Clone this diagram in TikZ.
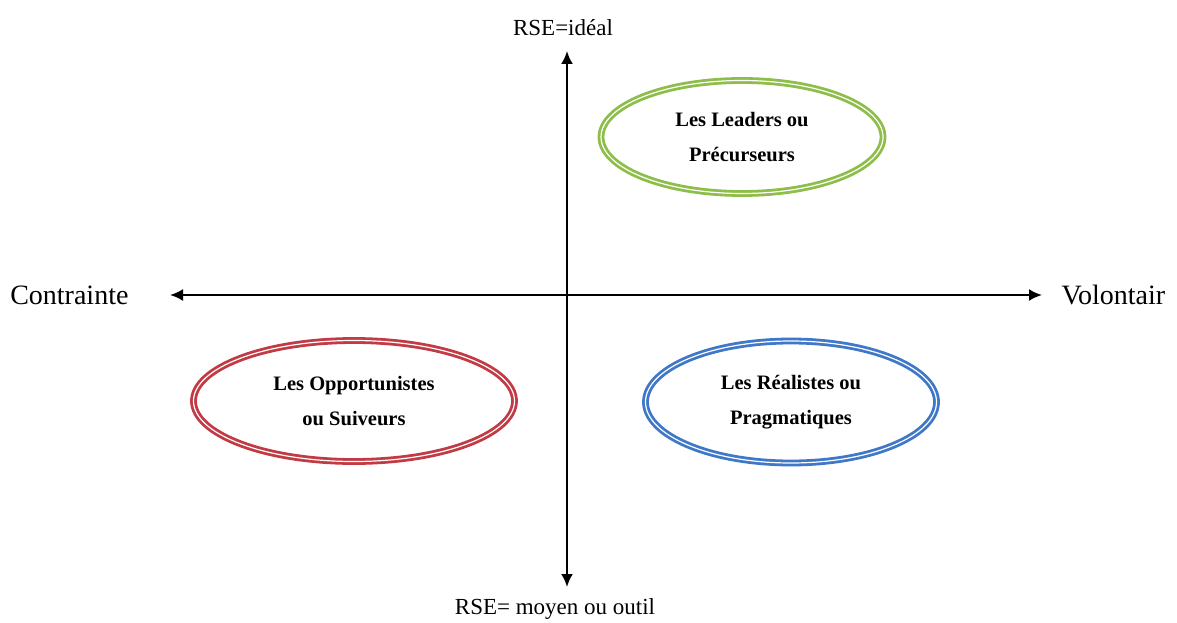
\documentclass[tikz,border=0pt]{standalone}
\usepackage{fontspec}
\setmainfont{Liberation Serif}
\usetikzlibrary{positioning,arrows.meta,shapes.geometric}
\definecolor{rseGreen}{HTML}{8DBE4A}
\definecolor{rseRed}{HTML}{C23A44}
\definecolor{rseBlue}{HTML}{3F78C8}

\begin{document}
\begin{tikzpicture}[x=1pt, y=-1pt,
      group/.style={ellipse, draw, double=white, line width=2.8pt,
        double distance=1.2pt, inner sep=0pt, align=center,
        font=\fontsize{20.5}{35}\selectfont\bfseries},
      lab/.style={font=\fontsize{23}{26}\selectfont},
      sidelab/.style={font=\fontsize{28}{30}\selectfont},
      arr/.style={{Latex[length=13pt,width=12pt]}-{Latex[length=13pt,width=12pt]},
        line width=2.2pt}]
    \useasboundingbox (0,0) rectangle (1177,623);
    % axes
    \coordinate (north) at (567,51);
    \coordinate (south) at (567,587);
    \coordinate (west) at (170,295);
    \coordinate (east) at (1042,295);
    \draw[arr] (south) -- (north);
    \draw[arr] (west) -- (east);
    \node[lab, above=12pt of north, xshift=-4pt] (ideal) {RSE=idéal};
    \node[lab, below=8pt of south, xshift=-12pt] (outil) {RSE= moyen ou outil};
    \node[sidelab, left=38pt of west] (contr) {Contrainte};
    \node[sidelab, right=16pt of east] (volont) {Volontair};
    % groups
    \node[group, draw=rseGreen, minimum width=282, minimum height=113]
      (lead) at (742,137) {Les Leaders ou\\Précurseurs};
    \node[group, draw=rseRed, minimum width=321, minimum height=121]
      (oppo) at (354,401) {Les Opportunistes\\ou Suiveurs};
    \node[group, draw=rseBlue, minimum width=291, minimum height=122]
      (real) at (791,402) {Les Réalistes ou\\Pragmatiques};
  \end{tikzpicture}
\end{document}
